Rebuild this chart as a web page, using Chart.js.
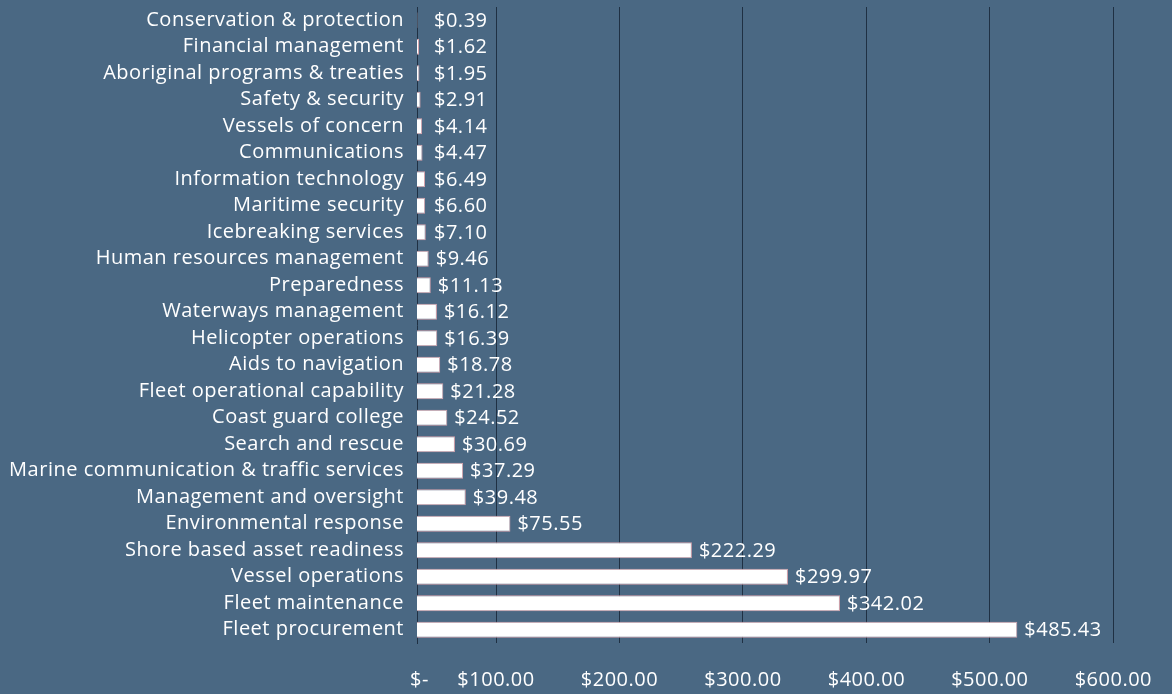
<!DOCTYPE html>
<html>
<head>
<meta charset="utf-8">
<script src="https://cdn.jsdelivr.net/npm/chart.js@4.4.1/dist/chart.umd.min.js"></script>
<style>
  html, body { margin: 0; padding: 0; background: #4a6883; }
  #wrap { width: 1172px; height: 694px; }
</style>
</head>
<body>
<div id="wrap"><canvas id="spendChart" width="1172" height="694"></canvas></div>
<script>
const programs = [
  'Conservation & protection', 'Financial management', 'Aboriginal programs & treaties',
  'Safety & security', 'Vessels of concern', 'Communications', 'Information technology',
  'Maritime security', 'Icebreaking services', 'Human resources management', 'Preparedness',
  'Waterways management', 'Helicopter operations', 'Aids to navigation',
  'Fleet operational capability', 'Coast guard college', 'Search and rescue',
  'Marine communication & traffic services', 'Management and oversight',
  'Environmental response', 'Shore based asset readiness', 'Vessel operations',
  'Fleet maintenance', 'Fleet procurement'
];
const spending = [
  0.39, 1.62, 1.95, 2.91, 4.14, 4.47, 6.49, 6.60, 7.10, 9.46, 11.13, 16.12,
  16.39, 18.78, 21.28, 24.52, 30.69, 37.29, 39.48, 75.55, 222.29, 299.97, 342.02, 485.43
];
const tickValues = [38, 100, 200, 300, 400, 500, 600];
const tickLabels = ['$-', '$100.00', '$200.00', '$300.00', '$400.00', '$500.00', '$600.00'];

const textColor = '#ffffff';
const gridColor = '#1f3043';
const fontFamily = '"Open Sans", Lato, sans-serif';
const fontSize = 20;

// the original font is wider than Open Sans, spread the letters a bit
const wideText = {
  id: 'wideText',
  beforeDraw(chart) {
    chart.ctx.letterSpacing = '0.5px';
  }
};

// value labels next to each bar ($0.39 ...)
const valueLabels = {
  id: 'valueLabels',
  afterDatasetsDraw(chart) {
    const { ctx } = chart;
    const meta = chart.getDatasetMeta(0);
    ctx.save();
    ctx.font = `${fontSize}px ${fontFamily}`;
    ctx.fillStyle = textColor;
    ctx.textAlign = 'left';
    ctx.textBaseline = 'middle';
    meta.data.forEach((bar, i) => {
      const x = Math.max(bar.x + 7, chart.chartArea.left + 17);
      ctx.fillText('$' + spending[i].toFixed(2), x, bar.y + 1);
    });
    ctx.restore();
  }
};

new Chart(document.getElementById('spendChart'), {
  type: 'bar',
  data: {
    labels: programs,
    datasets: [{
      data: spending,
      backgroundColor: '#ffffff',
      borderColor: '#d6a3ac',
      borderWidth: 1,
      barPercentage: 0.61,
      categoryPercentage: 1,
      xAxisID: 'x',
      yAxisID: 'y'
    }]
  },
  options: {
    indexAxis: 'y',
    responsive: false,
    animation: false,
    layout: { padding: { top: 7, right: 13, bottom: 0, left: 0 } },
    plugins: {
      legend: { display: false },
      tooltip: { enabled: false }
    },
    scales: {
      x: {
        display: false,
        min: 0,
        max: 600
      },
      x2: {
        position: 'bottom',
        min: 36,
        max: 637,
        afterBuildTicks: (scale) => {
          scale.ticks = tickValues.map((v) => ({ value: v }));
        },
        afterFit: (scale) => {
          scale.height = 51;
          scale.paddingLeft = 0;
          scale.paddingRight = 0;
        },
        ticks: {
          color: textColor,
          font: { family: fontFamily, size: fontSize },
          padding: 25,
          maxRotation: 0,
          autoSkip: false,
          callback: (value, index) => tickLabels[index]
        },
        grid: {
          drawTicks: false,
          color: (ctx) => ctx.index === 0 ? 'rgba(0,0,0,0)' : gridColor,
          lineWidth: 1
        },
        border: { display: false }
      },
      y: {
        afterFit: (scale) => {
          scale.width = 417;
          scale.paddingTop = 0;
          scale.paddingBottom = 0;
        },
        ticks: {
          color: textColor,
          font: { family: fontFamily, size: fontSize },
          padding: 13,
          autoSkip: false
        },
        grid: { display: false, drawTicks: false },
        border: { display: true, color: gridColor, width: 1 }
      }
    }
  },
  plugins: [wideText, valueLabels]
});
</script>
</body>
</html>
